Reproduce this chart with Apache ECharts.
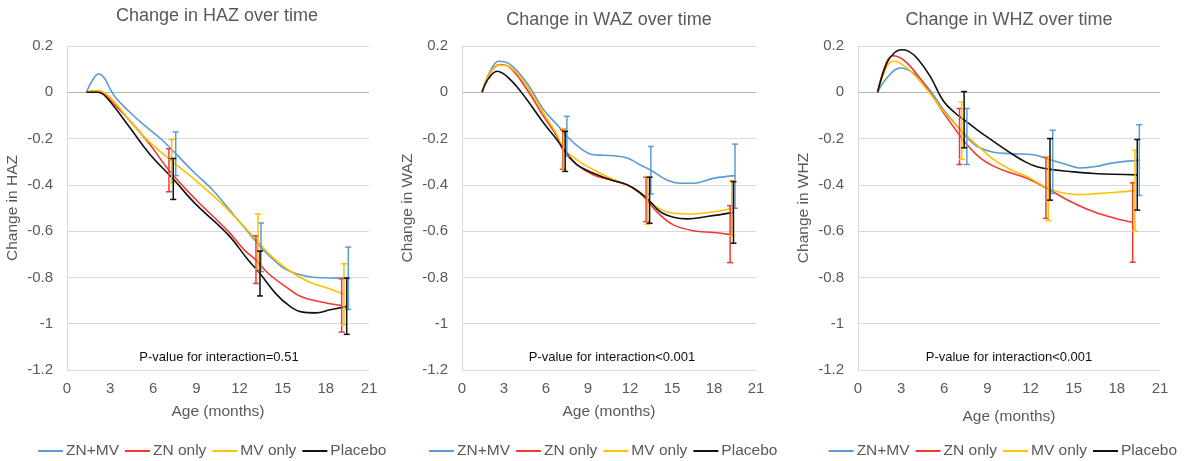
<!DOCTYPE html>
<html>
<head>
<meta charset="utf-8">
<script src="https://cdn.jsdelivr.net/npm/echarts@6/dist/echarts.min.js"></script>
<style>
html,body{margin:0;padding:0;background:#fff;}
#chart{width:1188px;height:461px;}
</style>
</head>
<body>
<div id="chart"></div>
<script>
// ---------- DATA ----------
var seriesNames = ['ZN+MV', 'ZN only', 'MV only', 'Placebo'];
var panelTitles = ['Change in HAZ over time', 'Change in WAZ over time', 'Change in WHZ over time'];
var yAxisNames = ['Change in HAZ', 'Change in WAZ', 'Change in WHZ'];
var xAxisName = 'Age (months)';
var pValueTexts = ['P-value for interaction=0.51', 'P-value for interaction<0.001', 'P-value for interaction<0.001'];

// HAZ curves [age, change]
var hazZnMv = [[1.35,0],[1.75,0.05],[2.2,0.079],[2.6,0.062],[3.0,0.015],[3.4,-0.025],[4.3,-0.082],[5.2,-0.133],[6.6,-0.205],[7.56,-0.265],[8.9,-0.35],[10.1,-0.42],[11.2,-0.50],[12.4,-0.59],[13.49,-0.67],[14.3,-0.72],[15.0,-0.757],[15.9,-0.783],[17.3,-0.80],[19.56,-0.803]];
var hazZn = [[1.35,0],[2.0,0.006],[2.4,0.003],[3.1,-0.04],[4.3,-0.118],[5.7,-0.22],[7.09,-0.337],[8.9,-0.46],[11.2,-0.60],[12.3,-0.68],[13.14,-0.725],[14.0,-0.783],[15.4,-0.848],[16.3,-0.884],[18.2,-0.913],[19.1,-0.921]];
var hazMv = [[1.35,0],[2.0,0.006],[2.4,0.003],[3.36,-0.046],[4.3,-0.118],[5.45,-0.198],[7.28,-0.297],[8.9,-0.378],[10.1,-0.443],[11.2,-0.508],[13.28,-0.645],[14.0,-0.696],[15.4,-0.768],[16.8,-0.819],[18.2,-0.848],[19.26,-0.873]];
var hazPlacebo = [[1.35,0],[2.1,0],[2.67,-0.017],[4.3,-0.147],[5.7,-0.263],[7.39,-0.375],[8.9,-0.48],[11.2,-0.615],[12.6,-0.725],[13.42,-0.783],[14.5,-0.869],[15.4,-0.92],[16.3,-0.949],[17.3,-0.953],[18.3,-0.94],[19.45,-0.925]];
// HAZ error bars [age, low, high]
var hazZnMvErr = [[7.56,-0.36,-0.171],[13.49,-0.775,-0.565],[19.56,-0.938,-0.669]];
var hazZnErr = [[7.09,-0.43,-0.244],[13.14,-0.826,-0.62],[19.1,-1.036,-0.806]];
var hazMvErr = [[7.28,-0.391,-0.204],[13.28,-0.764,-0.526],[19.26,-1.005,-0.741]];
var hazPlaceboErr = [[7.39,-0.463,-0.286],[13.42,-0.88,-0.686],[19.45,-1.046,-0.803]];

// WAZ curves
var wazZnMv = [[1.43,0],[2.02,0.091],[2.62,0.134],[3.45,0.12],[4.64,0.04],[5.83,-0.075],[7.02,-0.155],[7.49,-0.19],[8.44,-0.241],[9.4,-0.27],[10.8,-0.274],[11.8,-0.284],[12.7,-0.313],[13.49,-0.337],[14.6,-0.378],[15.6,-0.393],[16.5,-0.393],[18.0,-0.371],[19.5,-0.36]];
var wazZn = [[1.43,0],[2.02,0.084],[2.69,0.12],[3.45,0.105],[4.64,0.012],[5.83,-0.104],[6.78,-0.19],[7.2,-0.247],[8.2,-0.313],[9.4,-0.357],[10.6,-0.378],[11.8,-0.40],[12.7,-0.436],[13.15,-0.463],[14.15,-0.53],[15.1,-0.573],[16.5,-0.598],[18.0,-0.606],[19.15,-0.615]];
var wazMv = [[1.43,0],[2.02,0.085],[2.62,0.118],[3.45,0.108],[4.64,0.026],[5.83,-0.09],[6.78,-0.183],[7.25,-0.243],[8.2,-0.292],[9.4,-0.335],[10.6,-0.371],[11.8,-0.40],[12.7,-0.433],[13.25,-0.467],[14.15,-0.505],[15.1,-0.523],[16.5,-0.526],[18.0,-0.516],[19.27,-0.502]];
var wazPlacebo = [[1.43,0],[1.9,0.06],[2.5,0.091],[3.45,0.055],[4.64,-0.032],[5.83,-0.133],[6.78,-0.205],[7.37,-0.255],[8.2,-0.313],[9.4,-0.35],[10.6,-0.378],[11.8,-0.40],[12.7,-0.433],[13.4,-0.47],[14.15,-0.516],[15.1,-0.54],[16.1,-0.547],[17.5,-0.537],[19.39,-0.519]];
var wazZnMvErr = [[7.49,-0.276,-0.104],[13.49,-0.439,-0.234],[19.5,-0.501,-0.224]];
var wazZnErr = [[7.2,-0.332,-0.162],[13.15,-0.559,-0.367],[19.15,-0.736,-0.49]];
var wazMvErr = [[7.25,-0.328,-0.157],[13.25,-0.57,-0.364],[19.27,-0.62,-0.381]];
var wazPlaceboErr = [[7.37,-0.342,-0.169],[13.4,-0.566,-0.367],[19.39,-0.652,-0.386]];

// WHZ curves
var whzZnMv = [[1.36,0],[2.01,0.062],[2.94,0.105],[3.86,0.083],[4.79,0.026],[5.95,-0.075],[7.1,-0.161],[7.57,-0.195],[8.26,-0.233],[9.42,-0.259],[10.6,-0.265],[12.2,-0.27],[13.54,-0.295],[14.5,-0.312],[15.4,-0.327],[16.4,-0.322],[17.75,-0.305],[19.56,-0.293]];
var whzZn = [[1.36,0],[2.01,0.134],[2.47,0.158],[3.4,0.127],[4.79,0.019],[5.95,-0.089],[7.06,-0.185],[7.57,-0.226],[8.49,-0.283],[9.42,-0.319],[10.6,-0.348],[11.7,-0.37],[13.07,-0.413],[14.5,-0.463],[15.9,-0.504],[17.3,-0.535],[19.1,-0.563]];
var whzMv = [[1.36,0],[2.01,0.112],[2.47,0.134],[3.4,0.105],[4.79,0.012],[5.95,-0.082],[7.22,-0.167],[8.49,-0.24],[9.42,-0.29],[10.6,-0.334],[11.7,-0.363],[13.24,-0.416],[14.05,-0.432],[15.4,-0.442],[16.8,-0.437],[18.0,-0.432],[19.26,-0.425]];
var whzPlacebo = [[1.36,0],[2.01,0.127],[2.55,0.172],[3.0,0.184],[3.5,0.178],[4.1,0.148],[5.02,0.069],[5.95,-0.039],[6.87,-0.096],[7.38,-0.119],[8.26,-0.161],[9.42,-0.212],[10.6,-0.262],[11.7,-0.303],[12.5,-0.323],[13.35,-0.333],[14.5,-0.341],[16.4,-0.351],[19.42,-0.357]];
var whzZnMvErr = [[7.57,-0.312,-0.07],[13.54,-0.437,-0.164],[19.56,-0.446,-0.14]];
var whzZnErr = [[7.06,-0.312,-0.07],[13.07,-0.545,-0.281],[19.1,-0.734,-0.391]];
var whzMvErr = [[7.22,-0.29,-0.043],[13.24,-0.554,-0.278],[19.26,-0.6,-0.25]];
var whzPlaceboErr = [[7.38,-0.24,0.003],[13.35,-0.466,-0.2],[19.42,-0.509,-0.204]];

var xMin = 0, xMax = 21, xInterval = 3;
var yMin = -1.2, yMax = 0.2, yInterval = 0.2;

// ---------- STYLE / LAYOUT ----------
var colors = ['#5b9bd5', '#f5382f', '#ffc000', '#111111'];
var FONT = 'Liberation Sans, Arial, sans-serif';
var TXT = '#595959';
var grids = [
  {left: 67, top: 46, width: 302, height: 324},
  {left: 462, top: 46, width: 294, height: 324},
  {left: 858, top: 46, width: 302, height: 324}
];
var titlePos = [[217, 16], [609, 20], [1009, 20]];
var pPos = [[219, 357], [612, 357], [1009, 357]];
var legendPos = [{left: 33}, {left: 424}, {right: 6}];
var xNameGap = [34, 34, 39];

var curves = [
  [hazZnMv, hazZn, hazMv, hazPlacebo],
  [wazZnMv, wazZn, wazMv, wazPlacebo],
  [whzZnMv, whzZn, whzMv, whzPlacebo]
];
var errs = [
  [hazZnMvErr, hazZnErr, hazMvErr, hazPlaceboErr],
  [wazZnMvErr, wazZnErr, wazMvErr, wazPlaceboErr],
  [whzZnMvErr, whzZnErr, whzMvErr, whzPlaceboErr]
];

function errRender(params, api) {
  var x = api.value(0), lo = api.value(1), hi = api.value(2);
  var pt = api.coord([x, hi]);
  var pb = api.coord([x, lo]);
  var c = api.visual('color');
  var w = 3;
  var st = {stroke: c, lineWidth: 1.5};
  return {type: 'group', children: [
    {type: 'line', shape: {x1: pt[0], y1: pt[1], x2: pb[0], y2: pb[1]}, style: st},
    {type: 'line', shape: {x1: pt[0]-w, y1: pt[1], x2: pt[0]+w, y2: pt[1]}, style: st},
    {type: 'line', shape: {x1: pb[0]-w, y1: pb[1], x2: pb[0]+w, y2: pb[1]}, style: st}
  ]};
}

var splitColors = ['#d9d9d9','#d9d9d9','#d9d9d9','#d9d9d9','#d9d9d9','#d9d9d9','#b3b3b3','#d9d9d9'];

var xAxes = [], yAxes = [], series = [], legends = [], graphics = [];
for (var p = 0; p < 3; p++) {
  xAxes.push({
    type: 'value', gridIndex: p, min: xMin, max: xMax, interval: xInterval,
    name: xAxisName, nameLocation: 'middle', nameGap: xNameGap[p],
    nameTextStyle: {color: TXT, fontSize: 15.5, fontFamily: FONT},
    axisLine: {show: false, onZero: false}, axisTick: {show: false}, splitLine: {show: false},
    axisLabel: {color: TXT, fontSize: 15, fontFamily: FONT, margin: 11}
  });
  yAxes.push({
    type: 'value', gridIndex: p, min: yMin, max: yMax, interval: yInterval,
    name: yAxisNames[p], nameLocation: 'middle', nameGap: 46,
    nameTextStyle: {color: TXT, fontSize: 15.5, fontFamily: FONT},
    axisLine: {show: true, lineStyle: {color: '#d9d9d9', width: 1}}, axisTick: {show: false},
    splitLine: {show: true, lineStyle: {color: splitColors, width: 1}},
    axisLabel: {color: TXT, fontSize: 15, fontFamily: FONT, margin: 14,
      formatter: function (v) { return String(Math.round(v * 10) / 10); }}
  });
  for (var s = 0; s < 4; s++) {
    series.push({
      type: 'line', name: seriesNames[s], xAxisIndex: p, yAxisIndex: p,
      data: curves[p][s], smooth: 0.4, showSymbol: false, symbol: 'none',
      lineStyle: {color: colors[s], width: 1.6}, itemStyle: {color: colors[s]},
      z: 3 + s, silent: true, animation: false
    });
  }
  for (var s2 = 0; s2 < 4; s2++) {
    series.push({
      type: 'custom', name: seriesNames[s2], xAxisIndex: p, yAxisIndex: p,
      data: errs[p][s2], renderItem: errRender, encode: {x: 0, y: [1, 2]},
      itemStyle: {color: colors[s2]}, z: 8 + s2, silent: true, animation: false
    });
  }
  var lg = {
    top: 438, orient: 'horizontal', width: 400,
    data: seriesNames.slice(), icon: 'rect', itemWidth: 25, itemHeight: 2, itemGap: 6,
    textStyle: {color: TXT, fontSize: 15.5, fontFamily: FONT, padding: [0, 0, 0, -2]},
    selectedMode: false
  };
  for (var k in legendPos[p]) lg[k] = legendPos[p][k];
  legends.push(lg);
  graphics.push({
    type: 'text', x: titlePos[p][0], y: titlePos[p][1],
    style: {text: panelTitles[p], fill: TXT, fontSize: 18, fontFamily: FONT, align: 'center', verticalAlign: 'middle'}
  });
  graphics.push({
    type: 'text', x: pPos[p][0], y: pPos[p][1],
    style: {text: pValueTexts[p], fill: '#111', fontSize: 13, fontFamily: FONT, align: 'center', verticalAlign: 'middle'}
  });
}

var chart = echarts.init(document.getElementById('chart'), null, {renderer: 'canvas'});
chart.setOption({
  animation: false,
  backgroundColor: '#ffffff',
  grid: grids,
  xAxis: xAxes,
  yAxis: yAxes,
  legend: legends,
  series: series,
  graphic: graphics
});
</script>
</body>
</html>
